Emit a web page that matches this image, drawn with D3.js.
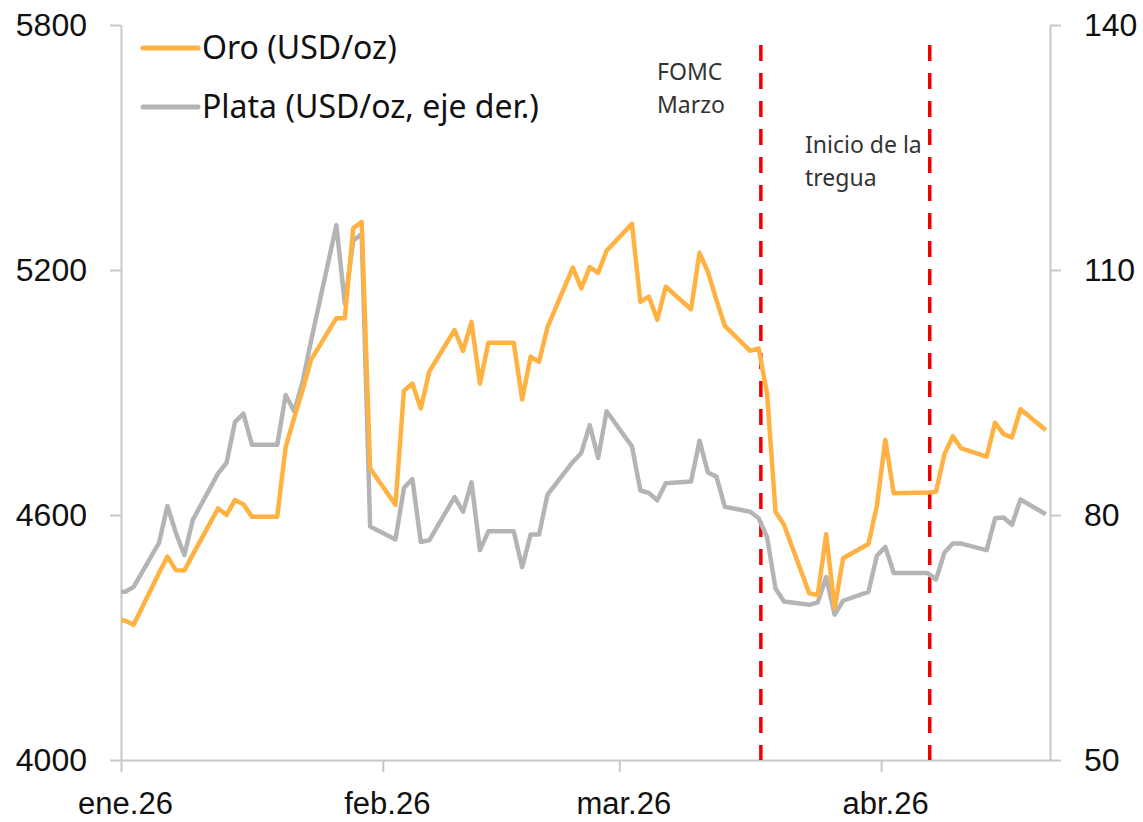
<!DOCTYPE html>
<html>
<head>
<meta charset="utf-8">
<script src="https://cdn.jsdelivr.net/npm/d3@7"></script>
<style>
  html, body { margin: 0; padding: 0; background: #fff; }
  svg { display: block; font-family: "Noto Sans", "Open Sans", sans-serif; }
  .axis text { fill: #111; font-size: 32px; }
  .axis.x text { font-size: 31px; }
  .axis path, .axis line { stroke: #c8c8c8; stroke-width: 2; }
  .note { fill: #333; font-size: 23px; }
  .legend text { fill: #111; font-size: 32px; }
</style>
</head>
<body>
<div id="chart"></div>
<script>
// Oro vs Plata, ene-abr 2026. Values.
const DATES = [
  "2025-12-31", "2026-01-01", "2026-01-02", "2026-01-05", "2026-01-06", "2026-01-07", "2026-01-08", "2026-01-09",
  "2026-01-12", "2026-01-13", "2026-01-14", "2026-01-15", "2026-01-16", "2026-01-19", "2026-01-20", "2026-01-21",
  "2026-01-22", "2026-01-23", "2026-01-26", "2026-01-27", "2026-01-28", "2026-01-29", "2026-01-30", "2026-02-02",
  "2026-02-03", "2026-02-04", "2026-02-05", "2026-02-06", "2026-02-09", "2026-02-10", "2026-02-11", "2026-02-12",
  "2026-02-13", "2026-02-16", "2026-02-17", "2026-02-18", "2026-02-19", "2026-02-20", "2026-02-23", "2026-02-24",
  "2026-02-25", "2026-02-26", "2026-02-27", "2026-03-02", "2026-03-03", "2026-03-04", "2026-03-05", "2026-03-06",
  "2026-03-09", "2026-03-10", "2026-03-11", "2026-03-12", "2026-03-13", "2026-03-16", "2026-03-17", "2026-03-18",
  "2026-03-19", "2026-03-20", "2026-03-23", "2026-03-24", "2026-03-25", "2026-03-26", "2026-03-27", "2026-03-30",
  "2026-03-31", "2026-04-01", "2026-04-02", "2026-04-06", "2026-04-07", "2026-04-08", "2026-04-09", "2026-04-10",
  "2026-04-13", "2026-04-14", "2026-04-15", "2026-04-16", "2026-04-17", "2026-04-20"
];
const ORO = [
  4343, 4341, 4331, 4458, 4498, 4465, 4464, 4503,
  4616, 4600, 4637, 4626, 4596, 4596, 4767, 4837,
  4905, 4980, 5082, 5082, 5302, 5318, 4714, 4625,
  4904, 4922, 4861, 4951, 5053, 5002, 5073, 4922,
  5022, 5022, 4883, 4988, 4975, 5060, 5206, 5155,
  5207, 5193, 5247, 5313, 5122, 5135, 5078, 5159,
  5104, 5242, 5195, 5127, 5063, 5002, 5008, 4898,
  4608, 4576, 4408, 4404, 4553, 4372, 4494, 4529,
  4622, 4784, 4653, 4655, 4657, 4749, 4793, 4763,
  4743, 4826, 4798, 4790, 4859, 4808
];
const PLATA = [
  70.6, 70.6, 71.2, 76.6, 81.1, 77.8, 75.1, 79.4,
  85.1, 86.4, 91.4, 92.4, 88.6, 88.6, 94.7, 92.7,
  96.3, 101.3, 115.5, 105.9, 113.6, 114.4, 78.6, 77.0,
  83.3, 84.4, 76.7, 76.9, 82.2, 80.4, 84.0, 75.7,
  78.0, 78.0, 73.6, 77.6, 77.6, 82.5, 86.5, 87.6,
  91.0, 87.0, 92.7, 88.4, 83.0, 82.7, 81.8, 83.9,
  84.1, 89.1, 85.2, 84.7, 81.0, 80.4, 79.6, 77.3,
  71.0, 69.4, 69.0, 69.3, 72.4, 67.8, 69.5, 70.6,
  75.0, 76.1, 72.9, 72.9, 72.1, 75.4, 76.5, 76.5,
  75.7, 79.6, 79.7, 78.8, 81.9, 80.1
];
const X_TICKS = ["2026-01-01", "2026-02-01", "2026-03-01", "2026-04-01"];
const X_LABELS = ["ene.26", "feb.26", "mar.26", "abr.26"];
const Y_LEFT_TICKS = [4000, 4600, 5200, 5800];
const Y_RIGHT_TICKS = [50, 80, 110, 140];
const EVENTS = [
  { date: "2026-03-18", lines: ["FOMC", "Marzo"] },
  { date: "2026-04-07", lines: ["Inicio de la", "tregua"] }
];
const SERIES = [
  { name: "Oro (USD/oz)", color: "#ffb142" },
  { name: "Plata (USD/oz, eje der.)", color: "#b4b4b4" }
];

const width = 1143, height = 822;
const margin = { top: 25, right: 93, bottom: 62, left: 121 };
const parse = d3.utcParse("%Y-%m-%d");
const HALF_DAY = 12 * 3600 * 1000;

const svg = d3.select("#chart").append("svg")
  .attr("width", width).attr("height", height).attr("viewBox", `0 0 ${width} ${height}`);

const x = d3.scaleUtc().domain([parse("2026-01-01"), parse("2026-04-21")])
  .range([margin.left, width - margin.right]);
const yL = d3.scaleLinear().domain([4000, 5800]).range([height - margin.bottom, margin.top]);
const yR = d3.scaleLinear().domain([50, 140]).range([height - margin.bottom, margin.top]);

svg.append("clipPath").attr("id", "plot").append("rect")
  .attr("x", margin.left).attr("y", 0)
  .attr("width", width - margin.left - margin.right).attr("height", height);

// axes
svg.append("g").attr("class", "axis").attr("transform", `translate(${margin.left},0)`)
  .call(d3.axisLeft(yL).tickValues(Y_LEFT_TICKS).tickSize(11).tickSizeOuter(0).tickPadding(23).tickFormat(d3.format("d")));
svg.append("g").attr("class", "axis").attr("transform", `translate(${width - margin.right},0)`)
  .call(d3.axisRight(yR).tickValues(Y_RIGHT_TICKS).tickSize(11).tickSizeOuter(0).tickPadding(23).tickFormat(d3.format("d")));
svg.append("g").attr("class", "axis x").attr("transform", `translate(0,${height - margin.bottom})`)
  .call(d3.axisBottom(x).tickValues(X_TICKS.map(parse)).tickSize(12).tickSizeOuter(0).tickPadding(20)
    .tickFormat((d, i) => X_LABELS[i]))
  .selectAll("text").attr("dx", 4);

// event lines (drawn at the start of the day, slightly before the day's data point)
EVENTS.forEach(ev => {
  const ex = x(parse(ev.date)) - 2;
  svg.append("line")
    .attr("x1", ex).attr("x2", ex)
    .attr("y1", 45).attr("y2", height - margin.bottom)
    .attr("stroke", "#f00000").attr("stroke-width", 3.5).attr("stroke-dasharray", "16 12");
});
const notePos = [{ x: 657, y: 80 }, { x: 805, y: 153 }];
EVENTS.forEach((ev, i) => {
  const t = svg.append("text").attr("class", "note").attr("x", notePos[i].x).attr("y", notePos[i].y);
  ev.lines.forEach((l, j) => t.append("tspan").attr("x", notePos[i].x).attr("dy", j ? 32.5 : 0).text(l));
});

// series
const rows = DATES.map((d, i) => ({ date: new Date(parse(d).getTime() + HALF_DAY), oro: ORO[i], plata: PLATA[i] }));
const lines = svg.append("g").attr("clip-path", "url(#plot)");
lines.append("path").datum(rows)
  .attr("fill", "none").attr("stroke", SERIES[1].color).attr("stroke-width", 4.5)
  .attr("stroke-linejoin", "round")
  .attr("d", d3.line().x(d => x(d.date)).y(d => yR(d.plata)));
lines.append("path").datum(rows)
  .attr("fill", "none").attr("stroke", SERIES[0].color).attr("stroke-width", 4.5)
  .attr("stroke-linejoin", "round")
  .attr("d", d3.line().x(d => x(d.date)).y(d => yL(d.oro)));

// legend
const legend = svg.append("g").attr("class", "legend");
SERIES.forEach((s, i) => {
  const ly = 48 + i * 59;
  legend.append("line").attr("x1", 143).attr("x2", 198).attr("y1", ly).attr("y2", ly)
    .attr("stroke", s.color).attr("stroke-width", 5).attr("stroke-linecap", "round");
  legend.append("text").attr("x", 202).attr("y", ly).attr("dy", "0.35em").text(s.name);
});
</script>
</body>
</html>
